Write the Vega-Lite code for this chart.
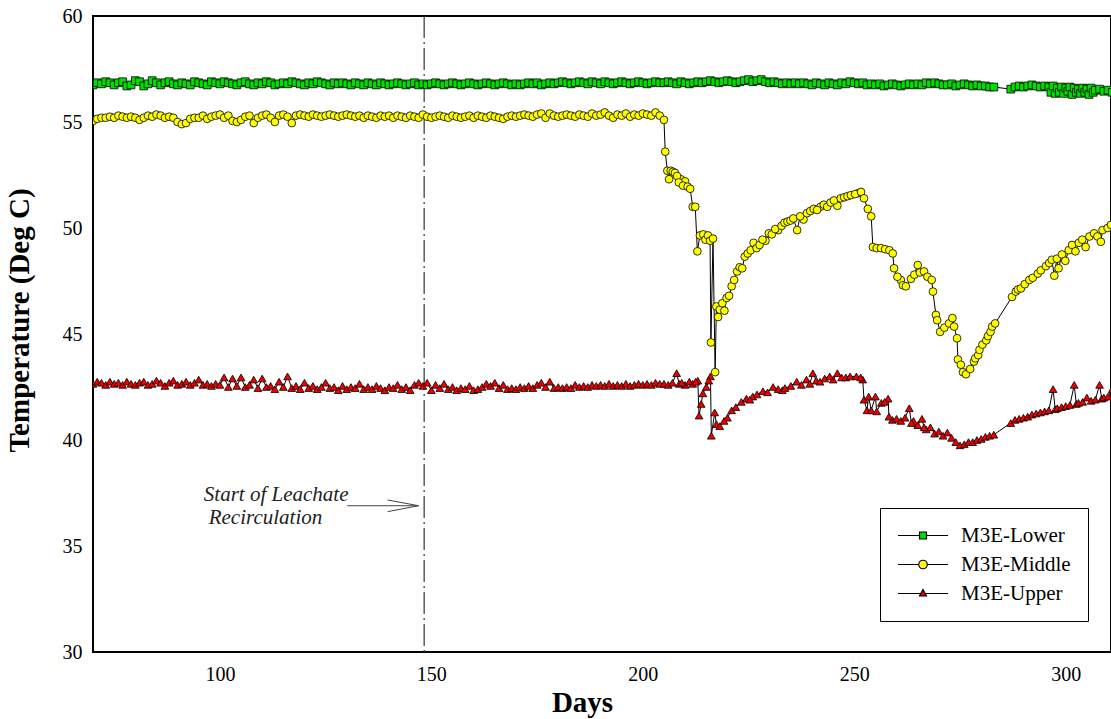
{
"$schema": "https://vega.github.io/schema/vega-lite/v6.json",
"width": 1018, "height": 636,
"autosize": {"type": "none"},
"padding": {"left": 93, "top": 16, "right": 0, "bottom": 67},
"background": "white",
"config": {
 "view": {"stroke": "black", "strokeWidth": 2},
 "font": "Liberation Serif",
 "axis": {"domain": false, "ticks": false, "grid": false, "labelFont": "Liberation Serif", "labelFontSize": 20, "labelColor": "black", "titleFont": "Liberation Serif", "titleFontSize": 29, "titleFontWeight": "bold", "titleColor": "black", "labelOverlap": false},
 "axisX": {"labelPadding": 12, "titleX": 489, "titleY": 59, "titleBaseline": "alphabetic", "titleAlign": "center", "labelFlush": false},
 "axisY": {"labelPadding": 11, "titleX": -65, "titleY": 304, "titleBaseline": "alphabetic", "titleAlign": "center", "titleAngle": -90},
 "legend": {"orient": "none", "legendX": 787, "legendY": 492, "title": null, "padding": 17, "rowPadding": 7, "clipHeight": 21, "strokeColor": "black", "fillColor": "white", "symbolSize": 2500, "symbolStrokeColor": "black", "symbolStrokeWidth": 1.2, "symbolOpacity": 1, "labelFont": "Liberation Serif", "labelFontSize": 21, "labelColor": "black", "labelOffset": 12}
},
"datasets": {
 "marker": [{"day": 148.3}],
 "arrow": [
  {"day": 130.1, "temp": 36.9, "day2": 146.97, "temp2": 36.9},
  {"day": 139.66, "temp": 37.17, "day2": 146.97, "temp2": 36.9},
  {"day": 139.66, "temp": 36.62, "day2": 146.97, "temp2": 36.9}
 ],
 "note": [
  {"day": 130.4, "temp": 37.12, "note": "Start of Leachate"},
  {"day": 124.2, "temp": 36.04, "note": "Recirculation"}
 ],
 "temps": [
{"day":70,"Lower":56.75,"Middle":55.05,"Upper":42.65},
{"day":71,"Lower":56.85,"Middle":55.15,"Upper":42.75},
{"day":72,"Lower":56.8,"Middle":55.2,"Upper":42.7},
{"day":73,"Lower":56.9,"Middle":55.2,"Upper":42.6},
{"day":74,"Lower":56.85,"Middle":55.25,"Upper":42.75},
{"day":75,"Lower":56.75,"Middle":55.2,"Upper":42.65},
{"day":76,"Lower":56.85,"Middle":55.3,"Upper":42.7},
{"day":77,"Lower":56.9,"Middle":55.25,"Upper":42.6},
{"day":78,"Lower":56.7,"Middle":55.2,"Upper":42.75},
{"day":79,"Lower":56.75,"Middle":55.25,"Upper":42.65},
{"day":80,"Lower":56.95,"Middle":55.2,"Upper":42.6},
{"day":81,"Lower":56.9,"Middle":55.1,"Upper":42.7},
{"day":82,"Lower":56.7,"Middle":55.2,"Upper":42.75},
{"day":83,"Lower":56.8,"Middle":55.3,"Upper":42.6},
{"day":84,"Lower":56.95,"Middle":55.25,"Upper":42.65},
{"day":85,"Lower":56.85,"Middle":55.35,"Upper":42.8},
{"day":86,"Lower":56.75,"Middle":55.3,"Upper":42.7},
{"day":87,"Lower":56.85,"Middle":55.2,"Upper":42.55},
{"day":88,"Lower":56.9,"Middle":55.25,"Upper":42.7},
{"day":89,"Lower":56.8,"Middle":55.2,"Upper":42.8},
{"day":90,"Lower":56.75,"Middle":55.0,"Upper":42.6},
{"day":91,"Lower":56.85,"Middle":54.9,"Upper":42.65},
{"day":92,"Lower":56.8,"Middle":54.95,"Upper":42.75},
{"day":93,"Lower":56.75,"Middle":55.15,"Upper":42.6},
{"day":94,"Lower":56.9,"Middle":55.2,"Upper":42.7},
{"day":95,"Lower":56.85,"Middle":55.2,"Upper":42.85},
{"day":96,"Lower":56.8,"Middle":55.3,"Upper":42.6},
{"day":97,"Lower":56.75,"Middle":55.15,"Upper":42.65},
{"day":98,"Lower":56.9,"Middle":55.25,"Upper":42.55},
{"day":99,"Lower":56.85,"Middle":55.3,"Upper":42.65},
{"day":100,"Lower":56.8,"Middle":55.35,"Upper":42.6},
{"day":101,"Lower":56.9,"Middle":55.2,"Upper":42.95},
{"day":102,"Lower":56.85,"Middle":55.3,"Upper":42.5},
{"day":103,"Lower":56.8,"Middle":55.05,"Upper":42.9},
{"day":104,"Lower":56.75,"Middle":55.0,"Upper":42.55},
{"day":105,"Lower":56.85,"Middle":55.1,"Upper":42.95},
{"day":106,"Lower":56.9,"Middle":55.25,"Upper":42.5},
{"day":107,"Lower":56.8,"Middle":55.3,"Upper":42.6},
{"day":108,"Lower":56.75,"Middle":54.95,"Upper":42.85},
{"day":109,"Lower":56.85,"Middle":55.2,"Upper":42.45},
{"day":110,"Lower":56.8,"Middle":55.3,"Upper":42.9},
{"day":111,"Lower":56.9,"Middle":55.35,"Upper":42.5},
{"day":112,"Lower":56.85,"Middle":55.2,"Upper":42.55},
{"day":113,"Lower":56.75,"Middle":55.0,"Upper":42.4},
{"day":114,"Lower":56.8,"Middle":55.3,"Upper":42.75},
{"day":115,"Lower":56.85,"Middle":55.35,"Upper":42.5},
{"day":116,"Lower":56.8,"Middle":55.25,"Upper":43.0},
{"day":117,"Lower":56.9,"Middle":54.95,"Upper":42.45},
{"day":118,"Lower":56.85,"Middle":55.3,"Upper":42.55},
{"day":119,"Lower":56.8,"Middle":55.35,"Upper":42.4},
{"day":120,"Lower":56.75,"Middle":55.3,"Upper":42.7},
{"day":121,"Lower":56.85,"Middle":55.25,"Upper":42.45},
{"day":122,"Lower":56.8,"Middle":55.35,"Upper":42.55},
{"day":123,"Lower":56.9,"Middle":55.3,"Upper":42.4},
{"day":124,"Lower":56.85,"Middle":55.25,"Upper":42.5},
{"day":125,"Lower":56.8,"Middle":55.3,"Upper":42.7},
{"day":126,"Lower":56.75,"Middle":55.35,"Upper":42.45},
{"day":127,"Lower":56.85,"Middle":55.3,"Upper":42.5},
{"day":128,"Lower":56.8,"Middle":55.25,"Upper":42.35},
{"day":129,"Lower":56.85,"Middle":55.3,"Upper":42.55},
{"day":130,"Lower":56.8,"Middle":55.35,"Upper":42.4},
{"day":131,"Lower":56.75,"Middle":55.3,"Upper":42.5},
{"day":132,"Lower":56.85,"Middle":55.25,"Upper":42.45},
{"day":133,"Lower":56.8,"Middle":55.3,"Upper":42.65},
{"day":134,"Lower":56.75,"Middle":55.2,"Upper":42.4},
{"day":135,"Lower":56.85,"Middle":55.3,"Upper":42.5},
{"day":136,"Lower":56.8,"Middle":55.25,"Upper":42.4},
{"day":137,"Lower":56.75,"Middle":55.2,"Upper":42.55},
{"day":138,"Lower":56.85,"Middle":55.3,"Upper":42.45},
{"day":139,"Lower":56.8,"Middle":55.25,"Upper":42.35},
{"day":140,"Lower":56.75,"Middle":55.3,"Upper":42.5},
{"day":141,"Lower":56.8,"Middle":55.2,"Upper":42.45},
{"day":142,"Lower":56.85,"Middle":55.3,"Upper":42.6},
{"day":143,"Lower":56.8,"Middle":55.25,"Upper":42.4},
{"day":144,"Lower":56.75,"Middle":55.2,"Upper":42.5},
{"day":145,"Lower":56.8,"Middle":55.3,"Upper":42.35},
{"day":146,"Lower":56.85,"Middle":55.25,"Upper":42.6},
{"day":147,"Lower":56.75,"Middle":55.2,"Upper":42.7},
{"day":148,"Lower":56.8,"Middle":55.35,"Upper":42.55},
{"day":149,"Lower":56.75,"Middle":55.25,"Upper":42.7},
{"day":150,"Lower":56.8,"Middle":55.2,"Upper":42.35},
{"day":151,"Lower":56.85,"Middle":55.25,"Upper":42.6},
{"day":152,"Lower":56.8,"Middle":55.3,"Upper":42.45},
{"day":153,"Lower":56.75,"Middle":55.25,"Upper":42.65},
{"day":154,"Lower":56.8,"Middle":55.2,"Upper":42.4},
{"day":155,"Lower":56.85,"Middle":55.3,"Upper":42.5},
{"day":156,"Lower":56.8,"Middle":55.25,"Upper":42.35},
{"day":157,"Lower":56.75,"Middle":55.2,"Upper":42.45},
{"day":158,"Lower":56.8,"Middle":55.25,"Upper":42.4},
{"day":159,"Lower":56.85,"Middle":55.3,"Upper":42.55},
{"day":160,"Lower":56.8,"Middle":55.2,"Upper":42.35},
{"day":161,"Lower":56.75,"Middle":55.3,"Upper":42.4},
{"day":162,"Lower":56.8,"Middle":55.25,"Upper":42.5},
{"day":163,"Lower":56.85,"Middle":55.2,"Upper":42.65},
{"day":164,"Lower":56.8,"Middle":55.3,"Upper":42.55},
{"day":165,"Lower":56.75,"Middle":55.25,"Upper":42.7},
{"day":166,"Lower":56.8,"Middle":55.2,"Upper":42.45},
{"day":167,"Lower":56.85,"Middle":55.15,"Upper":42.6},
{"day":168,"Lower":56.8,"Middle":55.25,"Upper":42.4},
{"day":169,"Lower":56.75,"Middle":55.3,"Upper":42.45},
{"day":170,"Lower":56.8,"Middle":55.25,"Upper":42.4},
{"day":171,"Lower":56.75,"Middle":55.3,"Upper":42.5},
{"day":172,"Lower":56.8,"Middle":55.35,"Upper":42.45},
{"day":173,"Lower":56.85,"Middle":55.3,"Upper":42.55},
{"day":174,"Lower":56.8,"Middle":55.25,"Upper":42.45},
{"day":175,"Lower":56.85,"Middle":55.35,"Upper":42.6},
{"day":176,"Lower":56.75,"Middle":55.4,"Upper":42.7},
{"day":177,"Lower":56.8,"Middle":55.2,"Upper":42.5},
{"day":178,"Lower":56.85,"Middle":55.4,"Upper":42.75},
{"day":179,"Lower":56.8,"Middle":55.3,"Upper":42.45},
{"day":180,"Lower":56.85,"Middle":55.25,"Upper":42.5},
{"day":181,"Lower":56.9,"Middle":55.3,"Upper":42.45},
{"day":182,"Lower":56.85,"Middle":55.35,"Upper":42.5},
{"day":183,"Lower":56.8,"Middle":55.3,"Upper":42.45},
{"day":184,"Lower":56.85,"Middle":55.25,"Upper":42.6},
{"day":185,"Lower":56.9,"Middle":55.35,"Upper":42.5},
{"day":186,"Lower":56.85,"Middle":55.3,"Upper":42.55},
{"day":187,"Lower":56.8,"Middle":55.25,"Upper":42.5},
{"day":188,"Lower":56.9,"Middle":55.4,"Upper":42.6},
{"day":189,"Lower":56.85,"Middle":55.3,"Upper":42.55},
{"day":190,"Lower":56.8,"Middle":55.35,"Upper":42.6},
{"day":191,"Lower":56.9,"Middle":55.45,"Upper":42.55},
{"day":192,"Lower":56.85,"Middle":55.3,"Upper":42.65},
{"day":193,"Lower":56.8,"Middle":55.2,"Upper":42.55},
{"day":194,"Lower":56.85,"Middle":55.35,"Upper":42.6},
{"day":195,"Lower":56.9,"Middle":55.3,"Upper":42.55},
{"day":196,"Lower":56.85,"Middle":55.4,"Upper":42.65},
{"day":197,"Lower":56.8,"Middle":55.25,"Upper":42.55},
{"day":198,"Lower":56.85,"Middle":55.35,"Upper":42.6},
{"day":199,"Lower":56.9,"Middle":55.3,"Upper":42.65},
{"day":200,"Lower":56.85,"Middle":55.4,"Upper":42.6},
{"day":201,"Lower":56.8,"Middle":55.35,"Upper":42.65},
{"day":202,"Lower":56.85,"Middle":55.3,"Upper":42.6},
{"day":203,"Lower":56.9,"Middle":55.45,"Upper":42.7},
{"day":204,"Lower":56.85,"Middle":55.3,"Upper":42.65},
{"day":205,"Lower":56.85,"Middle":55.1,"Upper":42.65},
{"day":206,"Lower":56.9,"Upper":42.6},
{"day":207,"Lower":56.85,"Upper":42.7},
{"day":208,"Lower":56.8,"Upper":43.15},
{"day":209,"Lower":56.9,"Middle":52.3},
{"day":210,"Lower":56.85,"Middle":52.2,"Upper":42.6},
{"day":211,"Lower":56.8,"Upper":42.75},
{"day":212,"Lower":56.85},
{"day":213,"Lower":56.9,"Upper":42.8},
{"day":214,"Lower":56.85},
{"day":215,"Lower":56.9,"Upper":42.5},
{"day":216,"Lower":56.95,"Upper":43.0},
{"day":217,"Lower":56.9,"Upper":41.3},
{"day":218,"Lower":56.85},
{"day":219,"Lower":56.9},
{"day":220,"Lower":56.95,"Upper":41.05},
{"day":221,"Lower":56.9,"Middle":47.25,"Upper":41.4},
{"day":222,"Lower":56.85,"Upper":41.55},
{"day":223,"Lower":56.9},
{"day":224,"Lower":56.95},
{"day":225,"Lower":57.0},
{"day":226,"Lower":56.9,"Upper":42.05},
{"day":227,"Lower":56.95,"Upper":42.15},
{"day":228,"Lower":57.0},
{"day":229,"Lower":56.9,"Middle":49.4},
{"day":230,"Lower":56.85},
{"day":231,"Lower":56.9},
{"day":232,"Lower":56.85,"Middle":49.9,"Upper":42.4},
{"day":233,"Lower":56.8,"Upper":42.35},
{"day":234,"Lower":56.85},
{"day":235,"Lower":56.8,"Upper":42.55},
{"day":236,"Lower":56.85},
{"day":237,"Lower":56.8},
{"day":238,"Lower":56.85,"Middle":50.4},
{"day":239,"Lower":56.8},
{"day":240,"Lower":56.75},
{"day":241,"Lower":56.85,"Upper":42.8},
{"day":242,"Lower":56.8,"Middle":51.0},
{"day":243,"Lower":56.75,"Upper":42.9},
{"day":244,"Lower":56.85},
{"day":245,"Lower":56.8,"Upper":42.85},
{"day":246,"Lower":56.75,"Middle":51.05,"Upper":43.15},
{"day":247,"Lower":56.85,"Upper":42.95},
{"day":248,"Lower":56.8,"Upper":42.95},
{"day":249,"Lower":56.9,"Upper":43.0},
{"day":250,"Lower":56.85},
{"day":251,"Lower":56.8,"Middle":51.65},
{"day":252,"Lower":56.85,"Upper":42.85},
{"day":253,"Lower":56.75,"Upper":41.4},
{"day":254,"Lower":56.8,"Middle":50.55,"Upper":41.4},
{"day":255,"Lower":56.75,"Upper":42.05},
{"day":256,"Lower":56.8},
{"day":257,"Lower":56.7},
{"day":258,"Lower":56.75,"Upper":41.95},
{"day":259,"Lower":56.8,"Upper":40.95},
{"day":260,"Lower":56.75,"Upper":41.0},
{"day":261,"Lower":56.7,"Middle":47.55,"Upper":40.9},
{"day":262,"Lower":56.75,"Upper":41.05},
{"day":263,"Lower":56.8,"Upper":41.5},
{"day":264,"Lower":56.75,"Upper":40.9},
{"day":265,"Lower":56.8,"Middle":48.25,"Upper":40.7},
{"day":266,"Lower":56.75,"Upper":41.0},
{"day":267,"Lower":56.85,"Upper":40.5},
{"day":268,"Lower":56.8,"Upper":40.6},
{"day":269,"Lower":56.85,"Upper":40.3},
{"day":270,"Lower":56.8,"Upper":40.4},
{"day":271,"Lower":56.75,"Upper":40.2},
{"day":272,"Lower":56.75,"Upper":40.35},
{"day":273,"Lower":56.8,"Upper":40.1},
{"day":274,"Lower":56.7,"Upper":39.9},
{"day":275,"Lower":56.75,"Upper":39.75},
{"day":276,"Lower":56.8,"Upper":39.8},
{"day":277,"Lower":56.75,"Upper":39.9},
{"day":278,"Lower":56.7,"Upper":39.9},
{"day":279,"Lower":56.75,"Upper":40.0},
{"day":280,"Lower":56.7,"Upper":40.05},
{"day":281,"Lower":56.7,"Upper":40.15},
{"day":282,"Lower":56.65,"Upper":40.2},
{"day":283,"Lower":56.65,"Upper":40.25},
{"day":287,"Lower":56.55,"Upper":40.8},
{"day":288,"Lower":56.65,"Upper":40.95},
{"day":289,"Lower":56.7,"Upper":41.0},
{"day":290,"Lower":56.65,"Upper":41.05},
{"day":291,"Lower":56.7,"Upper":41.1},
{"day":292,"Lower":56.75,"Upper":41.2},
{"day":293,"Lower":56.7,"Upper":41.25},
{"day":294,"Lower":56.65,"Upper":41.3},
{"day":295,"Lower":56.7,"Upper":41.35},
{"day":296,"Lower":56.65,"Upper":41.4},
{"day":296.5,"Lower":56.4},
{"day":297,"Lower":56.7,"Upper":42.4},
{"day":297.5,"Lower":56.35,"Upper":41.45},
{"day":298,"Lower":56.6,"Upper":41.5},
{"day":298.5,"Lower":56.4},
{"day":299,"Lower":56.65,"Upper":41.55},
{"day":299.5,"Lower":56.35},
{"day":300,"Lower":56.6,"Upper":41.6},
{"day":300.5,"Lower":56.45},
{"day":301,"Lower":56.65,"Upper":41.65},
{"day":301.5,"Lower":56.3},
{"day":302,"Lower":56.6,"Upper":42.6},
{"day":302.5,"Lower":56.4,"Upper":41.7},
{"day":303,"Lower":56.55,"Upper":41.75},
{"day":303.5,"Lower":56.35},
{"day":304,"Lower":56.6,"Upper":41.8},
{"day":304.5,"Lower":56.4},
{"day":305,"Lower":56.55,"Upper":42.0},
{"day":305.5,"Lower":56.3},
{"day":306,"Lower":56.6,"Upper":41.85},
{"day":306.5,"Lower":56.4},
{"day":307,"Lower":56.5,"Upper":41.9},
{"day":308,"Lower":56.55,"Upper":42.6},
{"day":308.5,"Upper":41.95},
{"day":309,"Lower":56.45,"Upper":42.0},
{"day":310,"Lower":56.5,"Upper":42.05},
{"day":311,"Lower":56.4,"Upper":42.4},
{"day":205.3,"Middle":53.6},
{"day":205.8,"Middle":52.7},
{"day":206.2,"Middle":52.3},
{"day":206.6,"Middle":52.7},
{"day":207.1,"Middle":52.65},
{"day":207.6,"Middle":52.6},
{"day":208.1,"Middle":52.45},
{"day":208.5,"Middle":52.15},
{"day":209.5,"Middle":52.0},
{"day":210.6,"Middle":51.95},
{"day":211.2,"Middle":51.85},
{"day":211.8,"Middle":51.0},
{"day":212.4,"Middle":51.0},
{"day":212.9,"Middle":48.9},
{"day":213.5,"Middle":49.65},
{"day":214.3,"Middle":49.7},
{"day":214.8,"Middle":49.45},
{"day":215.4,"Middle":49.65},
{"day":215.9,"Middle":49.4},
{"day":216.1,"Middle":44.6},
{"day":216.6,"Middle":49.5},
{"day":217.1,"Middle":43.2},
{"day":217.4,"Middle":46.3},
{"day":217.8,"Middle":45.8},
{"day":218.2,"Middle":46.15},
{"day":218.8,"Middle":46.45},
{"day":219.3,"Middle":46.1},
{"day":219.8,"Middle":46.7},
{"day":220.4,"Middle":46.8},
{"day":221.6,"Middle":47.55},
{"day":222.3,"Middle":47.95},
{"day":222.9,"Middle":48.15},
{"day":223.5,"Middle":48.1},
{"day":224.1,"Middle":48.65},
{"day":224.8,"Middle":48.8},
{"day":225.5,"Middle":48.95},
{"day":226.2,"Middle":49.3},
{"day":226.9,"Middle":49.05},
{"day":227.6,"Middle":49.2},
{"day":228.3,"Middle":49.45},
{"day":229.8,"Middle":49.75},
{"day":230.5,"Middle":49.7},
{"day":231.3,"Middle":49.95},
{"day":232.8,"Middle":50.1},
{"day":233.5,"Middle":50.25},
{"day":234.2,"Middle":50.3},
{"day":234.9,"Middle":50.35},
{"day":235.6,"Middle":50.45},
{"day":236.5,"Middle":49.9},
{"day":237.2,"Middle":50.55},
{"day":238.8,"Middle":50.7},
{"day":239.6,"Middle":50.8},
{"day":240.4,"Middle":50.9},
{"day":241.2,"Middle":50.85},
{"day":242.8,"Middle":51.1},
{"day":243.6,"Middle":51.0},
{"day":244.4,"Middle":51.2},
{"day":245.2,"Middle":51.3},
{"day":246.8,"Middle":51.4},
{"day":247.6,"Middle":51.45},
{"day":248.4,"Middle":51.5},
{"day":249.2,"Middle":51.55},
{"day":250.2,"Middle":51.6},
{"day":251.6,"Middle":51.7},
{"day":252.3,"Middle":51.4},
{"day":253.2,"Middle":50.9},
{"day":254.4,"Middle":49.1},
{"day":255.3,"Middle":49.05},
{"day":256.3,"Middle":49.05},
{"day":257.3,"Middle":49.0},
{"day":258.3,"Middle":48.95},
{"day":259.1,"Middle":48.8},
{"day":259.4,"Middle":48.1},
{"day":260.2,"Middle":47.7},
{"day":261.5,"Middle":47.3},
{"day":262.2,"Middle":47.25},
{"day":263.4,"Middle":47.6},
{"day":264.2,"Middle":47.8},
{"day":265.5,"Middle":47.9},
{"day":266.5,"Middle":47.95},
{"day":267.3,"Middle":47.7},
{"day":268.3,"Middle":47.55},
{"day":268.6,"Middle":47.0},
{"day":269.3,"Middle":45.9},
{"day":269.6,"Middle":45.65},
{"day":270.3,"Middle":45.1},
{"day":271.3,"Middle":45.3},
{"day":272.4,"Middle":45.5},
{"day":273.2,"Middle":45.75},
{"day":273.6,"Middle":45.35},
{"day":274.3,"Middle":44.8},
{"day":274.5,"Middle":43.8},
{"day":275.2,"Middle":43.55},
{"day":275.7,"Middle":43.2},
{"day":276.4,"Middle":43.1},
{"day":277.4,"Middle":43.35},
{"day":278.3,"Middle":43.7},
{"day":278.6,"Middle":43.85},
{"day":279.3,"Middle":44.0},
{"day":279.6,"Middle":44.25},
{"day":280.3,"Middle":44.5},
{"day":281.2,"Middle":44.7},
{"day":281.6,"Middle":44.9},
{"day":282.2,"Middle":45.1},
{"day":282.6,"Middle":45.35},
{"day":283.3,"Middle":45.5},
{"day":287.3,"Middle":46.75},
{"day":288.2,"Middle":47.0},
{"day":288.7,"Middle":47.1},
{"day":289.4,"Middle":47.15},
{"day":290.3,"Middle":47.35},
{"day":291.4,"Middle":47.55},
{"day":292.2,"Middle":47.65},
{"day":293.4,"Middle":47.85},
{"day":294.1,"Middle":48.0},
{"day":295.3,"Middle":48.2},
{"day":296.1,"Middle":48.35},
{"day":296.7,"Middle":48.5},
{"day":297.3,"Middle":47.75},
{"day":297.9,"Middle":48.55},
{"day":298.3,"Middle":48.1},
{"day":299.1,"Middle":48.75},
{"day":299.9,"Middle":48.45},
{"day":300.7,"Middle":48.95},
{"day":301.5,"Middle":49.2},
{"day":302.3,"Middle":48.9},
{"day":303.1,"Middle":49.3},
{"day":303.9,"Middle":49.45},
{"day":304.7,"Middle":49.1},
{"day":305.6,"Middle":49.6},
{"day":306.7,"Middle":49.75},
{"day":307.5,"Middle":49.6},
{"day":308.3,"Middle":49.35},
{"day":308.7,"Middle":49.9},
{"day":309.9,"Middle":50.0},
{"day":310.7,"Middle":50.15},
{"day":208.6,"Upper":42.65},
{"day":209.2,"Upper":42.7},
{"day":211.8,"Upper":42.65},
{"day":212.5,"Upper":42.75},
{"day":213.3,"Upper":41.15},
{"day":213.8,"Upper":41.7},
{"day":214.2,"Upper":42.2},
{"day":215.6,"Upper":42.8},
{"day":216.2,"Upper":40.2},
{"day":217.4,"Upper":40.75},
{"day":218.2,"Upper":40.65},
{"day":219.2,"Upper":40.9},
{"day":223.3,"Upper":41.8},
{"day":224.5,"Upper":41.95},
{"day":225.3,"Upper":41.9},
{"day":228.4,"Upper":42.3},
{"day":229.5,"Upper":42.25},
{"day":230.8,"Upper":42.5},
{"day":233.6,"Upper":42.45},
{"day":236.4,"Upper":42.75},
{"day":237.5,"Upper":42.6},
{"day":238.7,"Upper":42.85},
{"day":239.5,"Upper":42.65},
{"day":240.2,"Upper":43.15},
{"day":241.9,"Upper":42.75},
{"day":244.2,"Upper":43.0},
{"day":250.5,"Upper":43.0},
{"day":251.5,"Upper":42.95},
{"day":252.3,"Upper":41.9},
{"day":253.4,"Upper":42.05},
{"day":255.3,"Upper":41.35},
{"day":256.4,"Upper":41.75},
{"day":257.2,"Upper":41.8},
{"day":258.2,"Upper":41.1},
{"day":263.5,"Upper":40.8},
{"day":266.5,"Upper":40.6}
 ]
},
"layer": [
 {
  "data": {"name": "marker"},
  "mark": {"type": "rule", "strokeDash": [22, 4, 2, 4], "color": "#333333", "strokeWidth": 1.2},
  "encoding": {
   "x": {"field": "day", "type": "quantitative", "scale": {"domain": [70, 310.7], "nice": false}, "title": "Days", "axis": {"values": [100, 150, 200, 250, 300]}}
  }
 },
 {
  "data": {"name": "arrow"},
  "mark": {"type": "rule", "color": "#444444", "strokeWidth": 1},
  "encoding": {
   "x": {"field": "day", "type": "quantitative", "scale": {"domain": [70, 310.7], "nice": false}, "title": "Days", "axis": {"values": [100, 150, 200, 250, 300]}},
   "x2": {"field": "day2"},
   "y": {"field": "temp", "type": "quantitative", "scale": {"domain": [30, 60], "nice": false}, "title": "Temperature (Deg C)", "axis": {"values": [30, 35, 40, 45, 50, 55, 60]}},
   "y2": {"field": "temp2"}
  }
 },
 {
  "data": {"name": "note"},
  "mark": {"type": "text", "align": "right", "baseline": "alphabetic", "font": "Liberation Serif", "fontStyle": "italic", "fontSize": 21, "color": "#222222"},
  "encoding": {
   "x": {"field": "day", "type": "quantitative", "scale": {"domain": [70, 310.7], "nice": false}, "title": "Days", "axis": {"values": [100, 150, 200, 250, 300]}},
   "y": {"field": "temp", "type": "quantitative", "scale": {"domain": [30, 60], "nice": false}, "title": "Temperature (Deg C)", "axis": {"values": [30, 35, 40, 45, 50, 55, 60]}},
   "text": {"field": "note"}
  }
 },
 {
  "data": {"name": "temps"},
  "transform": [{"fold": ["Lower", "Middle", "Upper"], "as": ["series", "temp"]}, {"filter": "isValid(datum.temp)"}],
  "mark": {"type": "line", "color": "black", "strokeWidth": 1, "clip": true},
  "encoding": {
   "x": {"field": "day", "type": "quantitative", "scale": {"domain": [70, 310.7], "nice": false}, "title": "Days", "axis": {"values": [100, 150, 200, 250, 300]}},
   "y": {"field": "temp", "type": "quantitative", "scale": {"domain": [30, 60], "nice": false}, "title": "Temperature (Deg C)", "axis": {"values": [30, 35, 40, 45, 50, 55, 60]}},
   "detail": {"field": "series"}
  }
 },
 {
  "data": {"name": "temps"},
  "transform": [{"fold": ["Lower", "Middle", "Upper"], "as": ["series", "temp"]}, {"filter": "isValid(datum.temp)"}],
  "mark": {"type": "point", "filled": true, "stroke": "black", "strokeWidth": 0.8, "size": 60, "opacity": 1, "clip": true},
  "encoding": {
   "x": {"field": "day", "type": "quantitative", "scale": {"domain": [70, 310.7], "nice": false}, "title": "Days", "axis": {"values": [100, 150, 200, 250, 300]}},
   "y": {"field": "temp", "type": "quantitative", "scale": {"domain": [30, 60], "nice": false}, "title": "Temperature (Deg C)", "axis": {"values": [30, 35, 40, 45, 50, 55, 60]}},
   "shape": {"field": "series", "type": "nominal", "scale": {"domain": ["Lower", "Middle", "Upper"], "range": ["square", "circle", "triangle-up"]}, "legend": null},
   "fill": {"field": "series", "type": "nominal", "scale": {"domain": ["Lower", "Middle", "Upper"], "range": ["#00dd00", "#ffff00", "#ee0000"]}, "legend": null}
  }
 },
 {
  "data": {"name": "temps"},
  "transform": [{"fold": ["Lower", "Middle", "Upper"], "as": ["series", "temp"]}, {"filter": "isValid(datum.temp)"}],
  "mark": {"type": "point", "filled": true, "opacity": 0},
  "encoding": {
   "x": {"field": "day", "type": "quantitative", "scale": {"domain": [70, 310.7], "nice": false}, "title": "Days", "axis": {"values": [100, 150, 200, 250, 300]}},
   "y": {"field": "temp", "type": "quantitative", "scale": {"domain": [30, 60], "nice": false}, "title": "Temperature (Deg C)", "axis": {"values": [30, 35, 40, 45, 50, 55, 60]}},
   "shape": {"field": "series", "type": "nominal", "scale": {"domain": ["Lower", "Middle", "Upper"], "range": ["M-1,0H-0.14M0.14,0H1M-0.14,-0.14H0.14V0.14H-0.14Z", "M-1,0H-0.17M0.17,0H1M-0.17,0A0.17,0.17,0,1,1,0.17,0A0.17,0.17,0,1,1,-0.17,0Z", "M-1,0H-0.1M0.1,0H1M0,-0.16L0.14,0.1H-0.14Z"]},
    "legend": {"labelExpr": "'M3E-' + datum.label"}},
   "fill": {"field": "series", "type": "nominal", "scale": {"domain": ["Lower", "Middle", "Upper"], "range": ["#00dd00", "#ffff00", "#ee0000"]},
    "legend": {"labelExpr": "'M3E-' + datum.label"}},
   "stroke": {"field": "series", "type": "nominal", "scale": {"domain": ["Lower", "Middle", "Upper"], "range": ["black", "black", "black"]},
    "legend": {"labelExpr": "'M3E-' + datum.label"}}
  }
 }
],
"resolve": {"scale": {"shape": "independent", "fill": "independent", "stroke": "independent"}}
}
